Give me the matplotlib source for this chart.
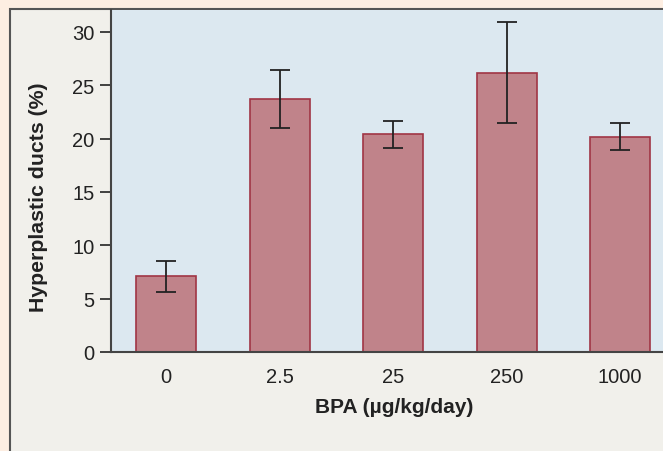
import matplotlib.pyplot as plt
from matplotlib.patches import Rectangle

plt.rcParams['font.family'] = ['Liberation Sans', 'DejaVu Sans']

doses = ["0", "2.5", "25", "250", "1000"]
hyperplastic = [7.1, 23.7, 20.4, 26.2, 20.2]
err = [1.45, 2.7, 1.3, 4.75, 1.3]

fig = plt.figure(figsize=(6.63, 4.52), dpi=100)
fig.patch.set_facecolor("#fdeee2")

# light panel behind the chart
fig.patches.append(Rectangle((10 / 663, -0.1), 1.2, 1.1 - 10 / 452,
                             transform=fig.transFigure, facecolor="#f1f0eb",
                             edgecolor="#555555", linewidth=1.5, zorder=-1))

ax = fig.add_axes([111 / 663, 99 / 452, 566 / 663, 342 / 452])
ax.set_facecolor("#dce8f0")

x = range(len(doses))
ax.bar(x, hyperplastic, width=0.53, color="#c0838a", edgecolor="#a03545",
       linewidth=1.2, zorder=2)
ax.errorbar(x, hyperplastic, yerr=err, fmt="none", ecolor="#222222",
            elinewidth=1.3, capsize=7.5, capthick=1.3, zorder=3)

ax.set_xlim(-0.485, 4.5)
ax.set_ylim(0, 32.06)
ax.set_yticks([0, 5, 10, 15, 20, 25, 30])
ax.set_xticks(list(x))
ax.set_xticklabels(doses)

for s in ["top", "right"]:
    ax.spines[s].set_visible(False)
ax.spines["left"].set_color("#444444")
ax.spines["bottom"].set_color("#444444")
ax.spines["left"].set_linewidth(1.5)
ax.spines["bottom"].set_linewidth(1.5)

ax.tick_params(axis="y", length=8, width=1.3, color="#333333", labelsize=14.5,
               labelcolor="#222222", pad=4)
ax.tick_params(axis="x", length=0, labelsize=14.5, labelcolor="#222222", pad=11)

ax.set_ylabel("Hyperplastic ducts (%)", fontsize=15.3, fontweight="bold",
              color="#222222")
ax.yaxis.set_label_coords(-0.111, 0.455)
ax.set_xlabel("BPA (\u00b5g/kg/day)", fontsize=15, fontweight="bold",
              color="#222222", labelpad=8)

fig.savefig("out.png", dpi=100, facecolor=fig.get_facecolor())
